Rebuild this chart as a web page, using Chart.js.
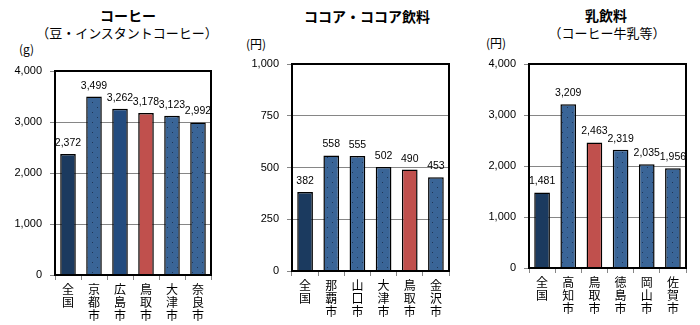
<!DOCTYPE html>
<html>
<head>
<meta charset="utf-8">
<script src="https://cdn.jsdelivr.net/npm/chart.js@4.4.1/dist/chart.umd.min.js"></script>
<style>
  body { margin: 0; background: #fff; }
  #wrap { position: relative; width: 700px; height: 325px; overflow: hidden; }
  canvas { position: absolute; top: 0; }
  .txt { position: absolute; font-family: "Noto Sans CJK JP", sans-serif; color: #000; white-space: nowrap; transform: translateX(-50%); line-height: 1; }
  .ttl { font-size: 14px; font-weight: bold; }
  .sub { font-size: 13px; }
  .unit { position: absolute; font-family: "Noto Sans CJK JP", sans-serif; font-size: 12px; line-height: 1; }
</style>
</head>
<body>
<div id="wrap">
  <div class="txt ttl" style="left:128px; top:8px;">コーヒー</div>
  <div class="txt sub" style="left:127px; top:26px;">（豆・インスタントコーヒー）</div>
  <div class="unit" style="left:19px; top:43px;">(g)</div>

  <div class="txt ttl" style="left:367px; top:9px;">ココア・ココア飲料</div>
  <div class="unit" style="left:246px; top:38px;">(円)</div>

  <div class="txt ttl" style="left:606px; top:8px;">乳飲料</div>
  <div class="txt sub" style="left:607px; top:26px;">（コーヒー牛乳等）</div>
  <div class="unit" style="left:486px; top:37px;">(円)</div>

  <canvas id="chartCoffee" width="230" height="325" style="left:0px"></canvas>
  <canvas id="chartCocoa" width="230" height="325" style="left:230px"></canvas>
  <canvas id="chartMilk" width="240" height="325" style="left:460px"></canvas>
</div>
<script>
// data
const coffeeCities = ["全国", "京都市", "広島市", "鳥取市", "大津市", "奈良市"];
const coffeeValues = [2372, 3499, 3262, 3178, 3123, 2992];

const cocoaCities = ["全国", "那覇市", "山口市", "大津市", "鳥取市", "金沢市"];
const cocoaValues = [382, 558, 555, 502, 490, 453];

const milkCities = ["全国", "高知市", "鳥取市", "徳島市", "岡山市", "佐賀市"];
const milkValues = [1481, 3209, 2463, 2319, 2035, 1956];

const NAVY = "#1b3a5f";
const RED = "#c0504d";
const DARKBLUE = "#234c7f";

function dottedBlue() {
    const c = document.createElement("canvas");
    c.width = 10;
    c.height = 10;
    const g = c.getContext("2d");
    g.fillStyle = "#3a6597";
    g.fillRect(0, 0, 10, 10);
    g.fillStyle = "#1e3556";
    g.fillRect(2, 2, 1, 1);
    g.fillRect(7, 7, 1, 1);
    return g.createPattern(c, "repeat");
}
const BLUE = dottedBlue();

function barColors(cities, plainBlue) {
    return cities.map((name) => {
        if (name === "全国") return NAVY;
        if (name === "鳥取市") return RED;
        if (plainBlue && plainBlue.includes(name)) return DARKBLUE;
        return BLUE;
    });
}

const valueLabels = {
    id: "valueLabels",
    afterDatasetsDraw(chart) {
        const ctx = chart.ctx;
        const meta = chart.getDatasetMeta(0);
        ctx.save();
        ctx.font = "10.5px 'Liberation Sans', sans-serif";
        ctx.fillStyle = "#000";
        ctx.textAlign = "center";
        ctx.textBaseline = "alphabetic";
        meta.data.forEach((bar, i) => {
            const v = chart.data.datasets[0].data[i];
            ctx.fillText(v.toLocaleString("en-US"), bar.x, bar.y - 8);
        });
        ctx.restore();
    },
};

const plotFrame = {
    id: "plotFrame",
    afterDraw(chart) {
        const a = chart.chartArea;
        const ctx = chart.ctx;
        ctx.save();
        ctx.strokeStyle = "#000";
        ctx.lineWidth = 2;
        ctx.strokeRect(a.left, a.top, a.right - a.left, a.bottom - a.top);
        ctx.restore();
    },
};

function makeChart(id, cities, values, opts) {
    return new Chart(document.getElementById(id), {
        type: "bar",
        data: {
            labels: cities.map((c) => c.split("")),
            datasets: [
                {
                    data: values,
                    backgroundColor: barColors(cities, opts.plainBlue),
                    borderColor: "#000",
                    borderWidth: 1.5,
                    borderSkipped: "bottom",
                    barPercentage: 0.6,
                    categoryPercentage: 1,
                },
            ],
        },
        options: {
            responsive: false,
            animation: false,
            layout: {
                padding: { top: opts.top, right: opts.right, left: 0, bottom: 0 },
            },
            plugins: {
                legend: { display: false },
                tooltip: { enabled: false },
            },
            scales: {
                x: {
                    grid: {
                        offset: true,
                        drawOnChartArea: false,
                        color: "#868686",
                        tickLength: 5,
                    },
                    border: { display: false },
                    ticks: {
                        color: "#000",
                        padding: 3,
                        maxRotation: 0,
                        autoSkip: false,
                        font: { family: "'Noto Sans CJK JP'", size: 12, lineHeight: 1.08 },
                    },
                    afterFit: (s) => { s.height = opts.xHeight; },
                },
                y: {
                    min: 0,
                    max: opts.max,
                    ticks: {
                        stepSize: opts.step,
                        color: "#000",
                        padding: 8,
                        font: { family: "'Liberation Sans'", size: 11 },
                        callback: (v) => v.toLocaleString("en-US"),
                    },
                    grid: { color: "#868686", tickLength: 5 },
                    border: { display: false },
                    afterFit: (s) => { s.width = opts.yWidth; },
                },
            },
        },
        plugins: [valueLabels, plotFrame],
    });
}

makeChart("chartCoffee", coffeeCities, coffeeValues, {
    max: 4000, step: 1000, top: 71, right: 19, yWidth: 55, xHeight: 50,
    plainBlue: ["広島市"],
});
makeChart("chartCocoa", cocoaCities, cocoaValues, {
    max: 1000, step: 250, top: 64, right: 11, yWidth: 62, xHeight: 54,
});
makeChart("chartMilk", milkCities, milkValues, {
    max: 4000, step: 1000, top: 64, right: 14, yWidth: 69, xHeight: 57,
});
</script>
</body>
</html>
